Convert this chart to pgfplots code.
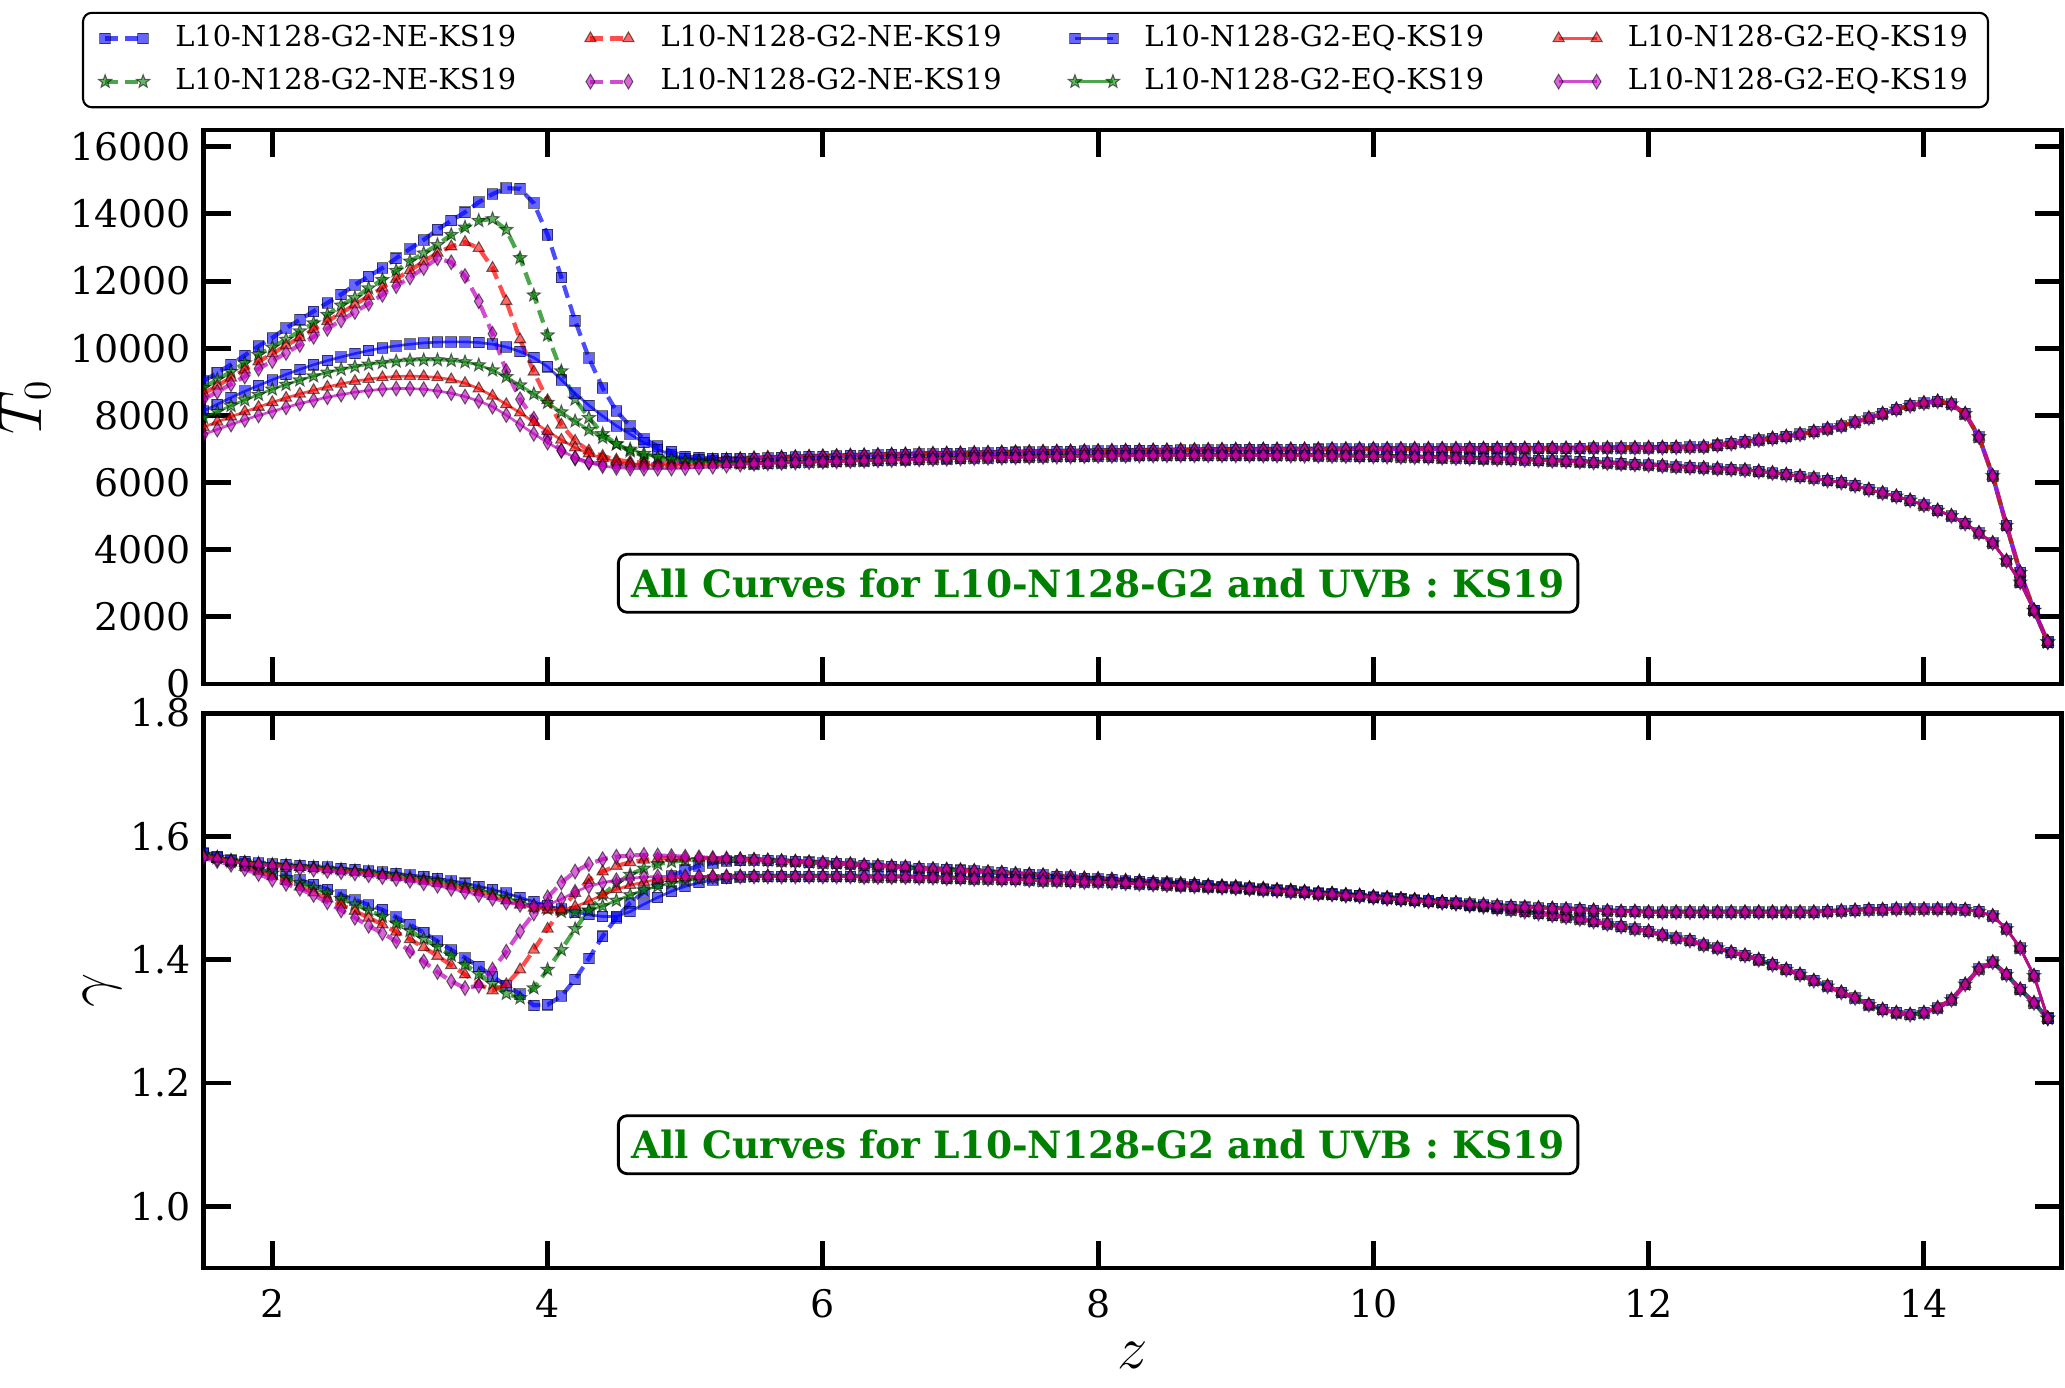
\documentclass[border=0pt]{standalone}
\usepackage{pgfplots}
\pgfplotsset{compat=1.18}
\usepackage{pgfplotstable}
\usepackage{fontspec}
\setmainfont{DejaVu Serif}
\usetikzlibrary{plotmarks}

\definecolor{cB}{rgb}{0,0,1}
\definecolor{cG}{rgb}{0,0.5,0}
\definecolor{cR}{rgb}{1,0,0}
\definecolor{cM}{rgb}{0.75,0,0.75}
\definecolor{notegreen}{rgb}{0,0.5,0}

% filled five-pointed star
\pgfdeclareplotmark{fstar}{%
  \pgfpathmoveto{\pgfpointpolar{90}{1.2\pgfplotmarksize}}%
  \pgfpathlineto{\pgfpointpolar{126}{0.5\pgfplotmarksize}}%
  \pgfpathlineto{\pgfpointpolar{162}{1.2\pgfplotmarksize}}%
  \pgfpathlineto{\pgfpointpolar{198}{0.5\pgfplotmarksize}}%
  \pgfpathlineto{\pgfpointpolar{234}{1.2\pgfplotmarksize}}%
  \pgfpathlineto{\pgfpointpolar{270}{0.5\pgfplotmarksize}}%
  \pgfpathlineto{\pgfpointpolar{306}{1.2\pgfplotmarksize}}%
  \pgfpathlineto{\pgfpointpolar{342}{0.5\pgfplotmarksize}}%
  \pgfpathlineto{\pgfpointpolar{18}{1.2\pgfplotmarksize}}%
  \pgfpathlineto{\pgfpointpolar{54}{0.5\pgfplotmarksize}}%
  \pgfpathclose
  \pgfusepathqfillstroke
}

% T0 versus z
\pgfplotstableread{
z bNE gNE rNE mNE bEQ gEQ rEQ mEQ
1.5 9020 8820 8650 8480 8130 7930 7650 7430
1.6 9270 9070 8880 8700 8330 8110 7810 7580
1.7 9515 9300 9120 8930 8530 8290 7960 7730
1.8 9790 9560 9360 9160 8720 8460 8110 7870
1.9 10060 9810 9600 9390 8890 8620 8250 8000
2.0 10310 10030 9840 9620 9060 8780 8390 8120
2.1 10600 10260 10080 9860 9220 8920 8520 8240
2.2 10850 10510 10320 10100 9370 9050 8640 8350
2.3 11100 10750 10560 10340 9510 9170 8750 8450
2.4 11350 11000 10800 10580 9630 9280 8850 8540
2.5 11600 11280 11050 10830 9740 9370 8940 8620
2.6 11890 11500 11300 11080 9840 9450 9020 8690
2.7 12140 11790 11550 11330 9930 9520 9080 8740
2.8 12390 12040 11800 11590 10010 9570 9130 8780
2.9 12680 12310 12060 11850 10070 9610 9160 8800
3.0 12960 12590 12320 12110 10120 9640 9170 8800
3.1 13230 12830 12580 12390 10160 9650 9160 8780
3.2 13530 13080 12840 12680 10180 9650 9130 8730
3.3 13800 13380 13030 12560 10190 9630 9070 8660
3.4 14050 13600 13160 12150 10190 9590 8960 8560
3.5 14350 13800 12980 11400 10170 9500 8800 8430
3.6 14590 13850 12390 10430 10120 9350 8580 8260
3.7 14770 13530 11400 9320 10040 9150 8330 8010
3.8 14750 12690 10260 8480 9900 8900 8080 7730
3.9 14320 11580 9300 7900 9720 8640 7800 7450
4.0 13380 10390 8450 7350 9450 8380 7530 7190
4.1 12110 9320 7720 6950 9060 8100 7270 6950
4.2 10820 8480 7240 6720 8660 7830 7040 6740
4.3 9710 7930 6950 6600 8300 7570 6860 6600
4.4 8820 7450 6790 6550 7980 7340 6720 6490
4.5 8130 7140 6680 6520 7690 7150 6620 6440
4.6 7680 6940 6620 6520 7440 6990 6560 6420
4.7 7290 6790 6590 6530 7190 6860 6530 6415
4.8 7090 6720 6580 6550 6990 6760 6520 6415
4.9 6920 6680 6590 6570 6820 6700 6515 6420
5.0 6770 6660 6610 6590 6720 6640 6515 6430
5.1 6740 6660 6630 6615 6680 6610 6520 6450
5.2 6720 6670 6655 6640 6640 6590 6530 6475
5.3 6710 6685 6675 6665 6610 6575 6540 6505
5.4 6710 6700 6700 6690 6580 6565 6550 6535
5.5 6720 6720 6720 6720 6560 6560 6560 6560
5.6 6732 6732 6732 6732 6572 6572 6572 6572
5.7 6744 6744 6744 6744 6584 6584 6584 6584
5.8 6756 6756 6756 6756 6596 6596 6596 6596
5.9 6768 6768 6768 6768 6608 6608 6608 6608
6.0 6780 6780 6780 6780 6620 6620 6620 6620
6.1 6790 6790 6790 6790 6630 6630 6630 6630
6.2 6800 6800 6800 6800 6640 6640 6640 6640
6.3 6810 6810 6810 6810 6650 6650 6650 6650
6.4 6820 6820 6820 6820 6660 6660 6660 6660
6.5 6830 6830 6830 6830 6670 6670 6670 6670
6.6 6838 6838 6838 6838 6680 6680 6680 6680
6.7 6846 6846 6846 6846 6690 6690 6690 6690
6.8 6854 6854 6854 6854 6700 6700 6700 6700
6.9 6862 6862 6862 6862 6710 6710 6710 6710
7.0 6870 6870 6870 6870 6720 6720 6720 6720
7.1 6878 6878 6878 6878 6728 6728 6728 6728
7.2 6886 6886 6886 6886 6736 6736 6736 6736
7.3 6894 6894 6894 6894 6744 6744 6744 6744
7.4 6902 6902 6902 6902 6752 6752 6752 6752
7.5 6910 6910 6910 6910 6760 6760 6760 6760
7.6 6916 6916 6916 6916 6766 6766 6766 6766
7.7 6922 6922 6922 6922 6772 6772 6772 6772
7.8 6928 6928 6928 6928 6778 6778 6778 6778
7.9 6934 6934 6934 6934 6784 6784 6784 6784
8.0 6940 6940 6940 6940 6790 6790 6790 6790
8.1 6944 6944 6944 6944 6794 6794 6794 6794
8.2 6948 6948 6948 6948 6798 6798 6798 6798
8.3 6952 6952 6952 6952 6802 6802 6802 6802
8.4 6956 6956 6956 6956 6806 6806 6806 6806
8.5 6960 6960 6960 6960 6810 6810 6810 6810
8.6 6964 6964 6964 6964 6811 6811 6811 6811
8.7 6968 6968 6968 6968 6812 6812 6812 6812
8.8 6972 6972 6972 6972 6812 6812 6812 6812
8.9 6976 6976 6976 6976 6811 6811 6811 6811
9.0 6980 6980 6980 6980 6810 6810 6810 6810
9.1 6982 6982 6982 6982 6808 6808 6808 6808
9.2 6984 6984 6984 6984 6806 6806 6806 6806
9.3 6986 6986 6986 6986 6804 6804 6804 6804
9.4 6988 6988 6988 6988 6802 6802 6802 6802
9.5 6990 6990 6990 6990 6800 6800 6800 6800
9.6 6992 6992 6992 6992 6796 6796 6796 6796
9.7 6994 6994 6994 6994 6792 6792 6792 6792
9.8 6996 6996 6996 6996 6788 6788 6788 6788
9.9 6998 6998 6998 6998 6784 6784 6784 6784
10.0 7000 7000 7000 7000 6780 6780 6780 6780
10.1 7001 7001 7001 7001 6772 6772 6772 6772
10.2 7002 7002 7002 7002 6764 6764 6764 6764
10.3 7003 7003 7003 7003 6756 6756 6756 6756
10.4 7004 7004 7004 7004 6748 6748 6748 6748
10.5 7005 7005 7005 7005 6740 6740 6740 6740
10.6 7006 7006 7006 7006 6730 6730 6730 6730
10.7 7007 7007 7007 7007 6720 6720 6720 6720
10.8 7008 7008 7008 7008 6710 6710 6710 6710
10.9 7009 7009 7009 7009 6700 6700 6700 6700
11.0 7010 7010 7010 7010 6690 6690 6690 6690
11.1 7012 7012 7012 7012 6676 6676 6676 6676
11.2 7014 7014 7014 7014 6662 6662 6662 6662
11.3 7016 7016 7016 7016 6648 6648 6648 6648
11.4 7018 7018 7018 7018 6634 6634 6634 6634
11.5 7020 7020 7020 7020 6620 6620 6620 6620
11.6 7023 7023 7023 7023 6600 6600 6600 6600
11.7 7026 7026 7026 7026 6580 6580 6580 6580
11.8 7029 7029 7029 7029 6560 6560 6560 6560
11.9 7032 7032 7032 7032 6540 6540 6540 6540
12.0 7035 7035 7035 7035 6520 6520 6520 6520
12.1 7040 7040 7040 7040 6495 6495 6495 6495
12.2 7048 7048 7048 7048 6470 6470 6470 6470
12.3 7056 7056 7056 7056 6448 6448 6448 6448
12.4 7064 7064 7064 7064 6430 6430 6430 6430
12.5 7110 7110 7110 7110 6410 6410 6410 6410
12.6 7160 7160 7160 7160 6390 6390 6390 6390
12.7 7215 7215 7215 7215 6370 6370 6370 6370
12.8 7265 7265 7265 7265 6330 6330 6330 6330
12.9 7315 7315 7315 7315 6285 6285 6285 6285
13.0 7370 7370 7370 7370 6235 6235 6235 6235
13.1 7440 7440 7440 7440 6185 6185 6185 6185
13.2 7515 7515 7515 7515 6130 6130 6130 6130
13.3 7600 7600 7600 7600 6060 6060 6060 6060
13.4 7690 7690 7690 7690 6000 6000 6000 6000
13.5 7800 7800 7800 7800 5910 5910 5910 5910
13.6 7920 7920 7920 7920 5790 5790 5790 5790
13.7 8050 8050 8050 8050 5690 5690 5690 5690
13.8 8180 8180 8180 8180 5590 5590 5590 5590
13.9 8290 8290 8290 8290 5470 5470 5470 5470
14.0 8370 8370 8370 8370 5330 5330 5330 5330
14.1 8420 8420 8420 8420 5170 5170 5170 5170
14.2 8340 8340 8340 8340 5010 5010 5010 5010
14.3 8050 8050 8050 8050 4780 4780 4780 4780
14.4 7360 7360 7360 7360 4500 4500 4500 4500
14.5 6200 6200 6200 6200 4200 4200 4200 4200
14.6 4720 4720 4720 4720 3670 3670 3670 3670
14.7 3320 3320 3320 3320 3030 3030 3030 3030
14.8 2190 2190 2190 2190 2190 2190 2190 2190
14.9 1250 1250 1250 1250 1250 1250 1250 1250
}\Ttab

% gamma versus z
\pgfplotstableread{
z bNE gNE rNE mNE bEQ gEQ rEQ mEQ
1.5 1.572 1.570 1.568 1.565 1.573 1.571 1.569 1.566
1.6 1.566 1.565 1.563 1.560 1.567 1.566 1.565 1.563
1.7 1.561 1.559 1.557 1.554 1.562 1.561 1.560 1.559
1.8 1.556 1.553 1.550 1.547 1.559 1.558 1.557 1.556
1.9 1.548 1.547 1.543 1.539 1.557 1.556 1.555 1.554
2.0 1.540 1.540 1.535 1.530 1.555 1.554 1.553 1.552
2.1 1.535 1.533 1.527 1.523 1.554 1.553 1.552 1.550
2.2 1.529 1.525 1.518 1.515 1.553 1.551 1.550 1.548
2.3 1.522 1.517 1.509 1.505 1.551 1.550 1.548 1.546
2.4 1.514 1.508 1.499 1.493 1.550 1.548 1.546 1.544
2.5 1.505 1.499 1.489 1.480 1.548 1.546 1.544 1.542
2.6 1.497 1.490 1.479 1.468 1.546 1.544 1.542 1.540
2.7 1.489 1.480 1.468 1.455 1.544 1.542 1.540 1.537
2.8 1.481 1.470 1.457 1.443 1.542 1.539 1.537 1.534
2.9 1.469 1.459 1.445 1.430 1.540 1.537 1.534 1.531
3.0 1.457 1.447 1.433 1.414 1.537 1.534 1.531 1.528
3.1 1.444 1.434 1.420 1.397 1.535 1.531 1.528 1.524
3.2 1.430 1.421 1.406 1.380 1.532 1.528 1.524 1.520
3.3 1.416 1.407 1.391 1.365 1.528 1.524 1.520 1.515
3.4 1.403 1.392 1.376 1.354 1.524 1.519 1.515 1.510
3.5 1.389 1.377 1.360 1.358 1.519 1.514 1.510 1.505
3.6 1.373 1.361 1.350 1.384 1.514 1.508 1.503 1.499
3.7 1.358 1.345 1.360 1.413 1.508 1.501 1.496 1.493
3.8 1.344 1.338 1.384 1.446 1.501 1.494 1.489 1.489
3.9 1.326 1.354 1.416 1.475 1.494 1.487 1.484 1.487
4.0 1.327 1.384 1.450 1.501 1.488 1.482 1.481 1.489
4.1 1.341 1.416 1.482 1.525 1.482 1.478 1.481 1.498
4.2 1.368 1.450 1.508 1.543 1.477 1.477 1.486 1.510
4.3 1.402 1.480 1.529 1.555 1.473 1.480 1.495 1.519
4.4 1.438 1.505 1.543 1.563 1.470 1.487 1.505 1.525
4.5 1.468 1.524 1.552 1.567 1.470 1.496 1.514 1.529
4.6 1.492 1.538 1.558 1.569 1.478 1.505 1.521 1.532
4.7 1.510 1.548 1.562 1.570 1.490 1.513 1.526 1.534
4.8 1.524 1.555 1.564 1.569 1.501 1.519 1.530 1.535
4.9 1.536 1.559 1.565 1.568 1.511 1.524 1.532 1.535
5.0 1.545 1.561 1.565 1.567 1.519 1.528 1.534 1.535
5.1 1.552 1.562 1.565 1.566 1.525 1.531 1.535 1.535
5.2 1.557 1.563 1.564 1.565 1.529 1.533 1.535 1.535
5.3 1.560 1.563 1.563 1.564 1.532 1.534 1.535 1.535
5.4 1.561 1.563 1.563 1.563 1.534 1.535 1.535 1.535
5.5 1.562 1.562 1.562 1.562 1.535 1.535 1.535 1.535
5.6 1.561 1.561 1.561 1.561 1.535 1.535 1.535 1.535
5.7 1.560 1.560 1.560 1.560 1.535 1.535 1.535 1.535
5.8 1.559 1.559 1.559 1.559 1.535 1.535 1.535 1.535
5.9 1.558 1.558 1.558 1.558 1.535 1.535 1.535 1.535
6.0 1.557 1.557 1.557 1.557 1.535 1.535 1.535 1.535
6.1 1.556 1.556 1.556 1.556 1.535 1.535 1.535 1.535
6.2 1.555 1.555 1.555 1.555 1.535 1.535 1.535 1.535
6.3 1.553 1.553 1.553 1.553 1.534 1.534 1.534 1.534
6.4 1.552 1.552 1.552 1.552 1.534 1.534 1.534 1.534
6.5 1.551 1.551 1.551 1.551 1.534 1.534 1.534 1.534
6.6 1.550 1.550 1.550 1.550 1.534 1.534 1.534 1.534
6.7 1.548 1.548 1.548 1.548 1.533 1.533 1.533 1.533
6.8 1.547 1.547 1.547 1.547 1.533 1.533 1.533 1.533
6.9 1.546 1.546 1.546 1.546 1.532 1.532 1.532 1.532
7.0 1.545 1.545 1.545 1.545 1.532 1.532 1.532 1.532
7.1 1.544 1.544 1.544 1.544 1.531 1.531 1.531 1.531
7.2 1.542 1.542 1.542 1.542 1.531 1.531 1.531 1.531
7.3 1.541 1.541 1.541 1.541 1.530 1.530 1.530 1.530
7.4 1.539 1.539 1.539 1.539 1.530 1.530 1.530 1.530
7.5 1.538 1.538 1.538 1.538 1.529 1.529 1.529 1.529
7.6 1.537 1.537 1.537 1.537 1.528 1.528 1.528 1.528
7.7 1.535 1.535 1.535 1.535 1.528 1.528 1.528 1.528
7.8 1.534 1.534 1.534 1.534 1.527 1.527 1.527 1.527
7.9 1.532 1.532 1.532 1.532 1.526 1.526 1.526 1.526
8.0 1.531 1.531 1.531 1.531 1.526 1.526 1.526 1.526
8.1 1.530 1.530 1.530 1.530 1.525 1.525 1.525 1.525
8.2 1.528 1.528 1.528 1.528 1.524 1.524 1.524 1.524
8.3 1.527 1.527 1.527 1.527 1.523 1.523 1.523 1.523
8.4 1.525 1.525 1.525 1.525 1.522 1.522 1.522 1.522
8.5 1.524 1.524 1.524 1.524 1.521 1.521 1.521 1.521
8.6 1.523 1.523 1.523 1.523 1.520 1.520 1.520 1.520
8.7 1.522 1.522 1.522 1.522 1.519 1.519 1.519 1.519
8.8 1.520 1.520 1.520 1.520 1.518 1.518 1.518 1.518
8.9 1.519 1.519 1.519 1.519 1.517 1.517 1.517 1.517
9.0 1.518 1.518 1.518 1.518 1.516 1.516 1.516 1.516
9.1 1.516 1.516 1.516 1.516 1.515 1.515 1.515 1.515
9.2 1.515 1.515 1.515 1.515 1.513 1.513 1.513 1.513
9.3 1.513 1.513 1.513 1.513 1.512 1.512 1.512 1.512
9.4 1.512 1.512 1.512 1.512 1.510 1.510 1.510 1.510
9.5 1.510 1.510 1.510 1.510 1.509 1.509 1.509 1.509
9.6 1.508 1.508 1.508 1.508 1.507 1.507 1.507 1.507
9.7 1.507 1.507 1.507 1.507 1.506 1.506 1.506 1.506
9.8 1.505 1.505 1.505 1.505 1.504 1.504 1.504 1.504
9.9 1.504 1.504 1.504 1.504 1.503 1.503 1.503 1.503
10.0 1.502 1.502 1.502 1.502 1.501 1.501 1.501 1.501
10.1 1.500 1.500 1.500 1.500 1.499 1.499 1.499 1.499
10.2 1.498 1.498 1.498 1.498 1.498 1.498 1.498 1.498
10.3 1.497 1.497 1.497 1.497 1.496 1.496 1.496 1.496
10.4 1.495 1.495 1.495 1.495 1.495 1.495 1.495 1.495
10.5 1.493 1.493 1.493 1.493 1.493 1.493 1.493 1.493
10.6 1.491 1.491 1.491 1.491 1.492 1.492 1.492 1.492
10.7 1.488 1.488 1.488 1.488 1.490 1.490 1.490 1.490
10.8 1.486 1.486 1.486 1.486 1.489 1.489 1.489 1.489
10.9 1.483 1.483 1.483 1.483 1.487 1.487 1.487 1.487
11.0 1.481 1.481 1.481 1.481 1.486 1.486 1.486 1.486
11.1 1.478 1.478 1.478 1.478 1.485 1.485 1.485 1.485
11.2 1.475 1.475 1.475 1.475 1.484 1.484 1.484 1.484
11.3 1.472 1.472 1.472 1.472 1.483 1.483 1.483 1.483
11.4 1.469 1.469 1.469 1.469 1.482 1.482 1.482 1.482
11.5 1.466 1.466 1.466 1.466 1.481 1.481 1.481 1.481
11.6 1.462 1.462 1.462 1.462 1.480 1.480 1.480 1.480
11.7 1.458 1.458 1.458 1.458 1.479 1.479 1.479 1.479
11.8 1.454 1.454 1.454 1.454 1.478 1.478 1.478 1.478
11.9 1.450 1.450 1.450 1.450 1.478 1.478 1.478 1.478
12.0 1.446 1.446 1.446 1.446 1.477 1.477 1.477 1.477
12.1 1.440 1.440 1.440 1.440 1.477 1.477 1.477 1.477
12.2 1.435 1.435 1.435 1.435 1.477 1.477 1.477 1.477
12.3 1.431 1.431 1.431 1.431 1.477 1.477 1.477 1.477
12.4 1.424 1.424 1.424 1.424 1.477 1.477 1.477 1.477
12.5 1.419 1.419 1.419 1.419 1.477 1.477 1.477 1.477
12.6 1.412 1.412 1.412 1.412 1.477 1.477 1.477 1.477
12.7 1.407 1.407 1.407 1.407 1.477 1.477 1.477 1.477
12.8 1.400 1.400 1.400 1.400 1.477 1.477 1.477 1.477
12.9 1.392 1.392 1.392 1.392 1.477 1.477 1.477 1.477
13.0 1.384 1.384 1.384 1.384 1.477 1.477 1.477 1.477
13.1 1.376 1.376 1.376 1.376 1.477 1.477 1.477 1.477
13.2 1.366 1.366 1.366 1.366 1.477 1.477 1.477 1.477
13.3 1.357 1.357 1.357 1.357 1.478 1.478 1.478 1.478
13.4 1.347 1.347 1.347 1.347 1.479 1.479 1.479 1.479
13.5 1.338 1.338 1.338 1.338 1.480 1.480 1.480 1.480
13.6 1.327 1.327 1.327 1.327 1.481 1.481 1.481 1.481
13.7 1.319 1.319 1.319 1.319 1.481 1.481 1.481 1.481
13.8 1.314 1.314 1.314 1.314 1.482 1.482 1.482 1.482
13.9 1.311 1.311 1.311 1.311 1.482 1.482 1.482 1.482
14.0 1.314 1.314 1.314 1.314 1.482 1.482 1.482 1.482
14.1 1.322 1.322 1.322 1.322 1.482 1.482 1.482 1.482
14.2 1.335 1.335 1.335 1.335 1.482 1.482 1.482 1.482
14.3 1.360 1.360 1.360 1.360 1.481 1.481 1.481 1.481
14.4 1.385 1.385 1.385 1.385 1.478 1.478 1.478 1.478
14.5 1.396 1.396 1.396 1.396 1.471 1.471 1.471 1.471
14.6 1.376 1.376 1.376 1.376 1.450 1.450 1.450 1.450
14.7 1.352 1.352 1.352 1.352 1.419 1.419 1.419 1.419
14.8 1.330 1.330 1.330 1.330 1.374 1.374 1.374 1.374
14.9 1.305 1.305 1.305 1.305 1.305 1.305 1.305 1.305
}\Gtab

\pgfplotsset{
  mk/.style={mark options={solid, draw=black, draw opacity=0.55,
      fill=#1, fill opacity=0.6, line width=0.3pt}},
  ne/.style={draw=#1, draw opacity=0.7, line width=1.2pt,
      dash pattern=on 3.7pt off 2pt, mk=#1},
  eq/.style={draw=#1, draw opacity=0.7, line width=0.75pt, solid, mk=#1},
  bNE/.style={ne=cB, mark=square*, mark size=1.5pt},
  gNE/.style={ne=cG, mark=fstar, mark size=1.65pt},
  rNE/.style={ne=cR, mark=triangle*, mark size=1.85pt},
  mNE/.style={ne=cM, mark=diamond*, mark size=2.1pt,
      every mark/.append style={xscale=0.8}},
  bEQ/.style={eq=cB, mark=square*, mark size=1.5pt},
  gEQ/.style={eq=cG, mark=fstar, mark size=1.65pt},
  rEQ/.style={eq=cR, mark=triangle*, mark size=1.85pt},
  mEQ/.style={eq=cM, mark=diamond*, mark size=2.1pt,
      every mark/.append style={xscale=0.8}},
  panel/.style={
    scale only axis, width=18.58cm,
    xmin=1.5, xmax=15, xtick={2,4,6,8,10,12,14},
    enlargelimits=false,
    tick align=inside, tick pos=both,
    major tick length=0.27cm,
    major tick style={black, line width=1.4pt},
    axis line style={line width=1.4pt},
    tick label style={font=\fontsize{10.8}{13}\selectfont},
    xticklabel style={yshift=-0.09cm},
    /pgf/number format/assume math mode=true,
    clip marker paths=true,
    label style={font=\fontsize{16}{18}\selectfont},
  },
}
\tikzset{
  notebox/.style={draw=black, line width=0.8pt, fill=white, rounded corners=2.5pt,
    text=notegreen, font=\bfseries\fontsize{10.7}{12}\selectfont,
    inner xsep=0.13cm, inner ysep=4pt, minimum height=0.58cm},
}

\newcommand{\legtext}[1]{\makebox[3.99cm][l]{#1}}

\begin{document}
\begin{tikzpicture}
\begin{axis}[panel,
  at={(2.035cm,7.03cm)}, anchor=south west, height=5.54cm,
  ymin=0, ymax=16500, ytick={0,2000,...,16000},
  scaled y ticks=false,
  yticklabel style={/pgf/number format/1000 sep={}},
  xticklabels={},
  ylabel={$T_0$}, ylabel shift=-0.04cm,
  legend columns=4,
  legend cell align=left,
  legend style={at={(axis description cs:-0.0654,1.1263)}, anchor=west,
    draw=black, line width=0.6pt, rounded corners=2.5pt,
    font=\fontsize{8.2}{10}\selectfont,
    inner xsep=3.7pt, inner ysep=1.5pt, row sep=0.7pt,
    column sep=0pt},
  legend image code/.code={%
    \path (-0.07cm,0cm) (0.61cm,0cm);
    \draw plot coordinates {(0cm,0cm) (0.38cm,0cm)};},
]
\addlegendimage{bNE}\addlegendentry{\legtext{L10-N128-G2-NE-KS19}}
\addlegendimage{rNE}\addlegendentry{\legtext{L10-N128-G2-NE-KS19}}
\addlegendimage{bEQ}\addlegendentry{\legtext{L10-N128-G2-EQ-KS19}}
\addlegendimage{rEQ}\addlegendentry{L10-N128-G2-EQ-KS19}
\addlegendimage{gNE}\addlegendentry{\legtext{L10-N128-G2-NE-KS19}}
\addlegendimage{mNE}\addlegendentry{\legtext{L10-N128-G2-NE-KS19}}
\addlegendimage{gEQ}\addlegendentry{\legtext{L10-N128-G2-EQ-KS19}}
\addlegendimage{mEQ}\addlegendentry{L10-N128-G2-EQ-KS19}

\addplot[bNE, forget plot] table[x=z, y=bNE] {\Ttab};
\addplot[gNE, forget plot] table[x=z, y=gNE] {\Ttab};
\addplot[rNE, forget plot] table[x=z, y=rNE] {\Ttab};
\addplot[mNE, forget plot] table[x=z, y=mNE] {\Ttab};
\addplot[bEQ, forget plot] table[x=z, y=bEQ] {\Ttab};
\addplot[gEQ, forget plot] table[x=z, y=gEQ] {\Ttab};
\addplot[rEQ, forget plot] table[x=z, y=rEQ] {\Ttab};
\addplot[mEQ, forget plot] table[x=z, y=mEQ] {\Ttab};

\node[notebox] at (axis cs:8,3000) {All Curves for L10-N128-G2 and UVB : KS19};
\end{axis}

\begin{axis}[panel,
  at={(2.035cm,1.19cm)}, anchor=south west, height=5.55cm,
  ymin=0.9, ymax=1.8, ytick={1.0,1.2,1.4,1.6,1.8},
  yticklabel style={/pgf/number format/.cd, fixed, fixed zerofill, precision=1},
  xlabel={$z$}, ylabel={$\gamma$}, ylabel shift=-0.15cm,
]
\addplot[bNE] table[x=z, y=bNE] {\Gtab};
\addplot[gNE] table[x=z, y=gNE] {\Gtab};
\addplot[rNE] table[x=z, y=rNE] {\Gtab};
\addplot[mNE] table[x=z, y=mNE] {\Gtab};
\addplot[bEQ] table[x=z, y=bEQ] {\Gtab};
\addplot[gEQ] table[x=z, y=gEQ] {\Gtab};
\addplot[rEQ] table[x=z, y=rEQ] {\Gtab};
\addplot[mEQ] table[x=z, y=mEQ] {\Gtab};

\node[notebox] at (axis cs:8,1.1) {All Curves for L10-N128-G2 and UVB : KS19};
\end{axis}

\pgfresetboundingbox
\useasboundingbox (0,0) rectangle (20.65cm,13.87cm);
\end{tikzpicture}
\end{document}
